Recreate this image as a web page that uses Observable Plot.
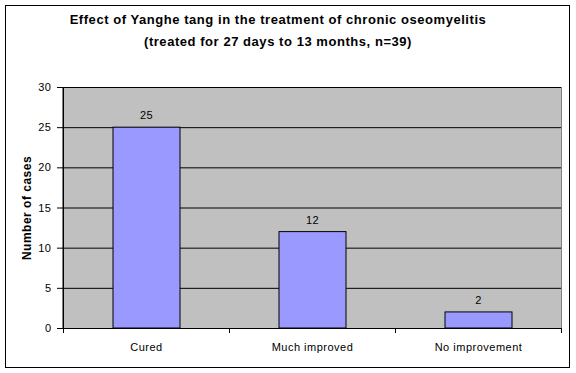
<!DOCTYPE html>
<html><head><meta charset="utf-8">
<script src="https://cdn.jsdelivr.net/npm/d3@7"></script>
<script src="https://cdn.jsdelivr.net/npm/@observablehq/plot@0.6"></script>
<style>
body{margin:0;background:#fff;font-family:"Liberation Sans",Arial,sans-serif;}
#wrap{position:relative;width:576px;height:373px;overflow:hidden;}
#border{position:absolute;left:5px;top:5px;width:563px;height:361px;border:1px solid #000;}
#title{position:absolute;left:0;top:9px;width:556px;text-align:center;font-weight:bold;font-size:13px;line-height:22px;color:#000;letter-spacing:0.55px;}
#chart{position:absolute;left:0;top:0;}
#chart svg text{letter-spacing:0.5px;}
</style></head>
<body>
<div id="wrap"><div id="border"></div><div id="chart"></div>
<div id="title">Effect of Yanghe tang in the treatment of chronic oseomyelitis<br>(treated for 27 days to 13 months, n=39)</div></div>
<script>
const categories = ["Cured", "Much improved", "No improvement"];
const cases = [25, 12, 2];
const yTicks = [0, 5, 10, 15, 20, 25, 30];
const yLabel = "Number of cases";
const data = categories.map((c, i) => ({category: c, value: cases[i]}));

const font = '"Liberation Sans", Arial, sans-serif';
const bandTicks = (index, scales, values, dims) => {
  const g = d3.create("svg:g").attr("stroke", "#000").attr("stroke-width", 1);
  const bw = scales.x.bandwidth();
  const xs = categories.map(c => scales.x(c)).concat([scales.x(categories[categories.length-1]) + bw]);
  const yb = scales.y(0);
  for (const x of xs) g.append("line").attr("x1", Math.round(x)+0.5).attr("x2", Math.round(x)+0.5).attr("y1", yb).attr("y2", yb + 5);
  const x0 = Math.round(xs[0]) + 0.5;
  g.append("line").attr("x1", x0).attr("x2", x0).attr("y1", scales.y(30)).attr("y2", yb);
  return g.node();
};

const plot = Plot.plot({
  width: 576, height: 373,
  marginTop: 87, marginLeft: 62, marginRight: 15, marginBottom: 45,
  style: {fontFamily: font, fontSize: "11px", color: "#000", background: "transparent", overflow: "visible"},
  x: {type: "band", domain: categories, padding: 0},
  y: {domain: [0, 30], ticks: yTicks},
  marks: [
    Plot.frame({fill: "#c0c0c0", stroke: "#808080"}),
    Plot.gridY(yTicks, {stroke: "#000", strokeOpacity: 1}),
    Plot.barY(data, {x: "category", y: "value", fill: "#9999ff", stroke: "#000", strokeWidth: 1, insetLeft: 50, insetRight: 49}),
    Plot.text(data, {x: "category", y: "value", text: d => String(d.value), dy: -12, fontSize: 11, fill: "#000"}),
    Plot.ruleY([0], {stroke: "#000"}),
    Plot.axisY(yTicks, {tickSize: 5, tickPadding: 6, label: null, fontSize: 11, stroke: "#000"}),
    Plot.axisX({tickSize: 0, tickPadding: 15, label: null, fontSize: 11}),
    bandTicks,
    Plot.text([yLabel], {frameAnchor: "left", dx: -35, rotate: -90, textAnchor: "middle", text: d => d, fontWeight: "bold", fontSize: 12, fill: "#000"})
  ]
});
document.getElementById("chart").appendChild(plot);
</script>
</body></html>
